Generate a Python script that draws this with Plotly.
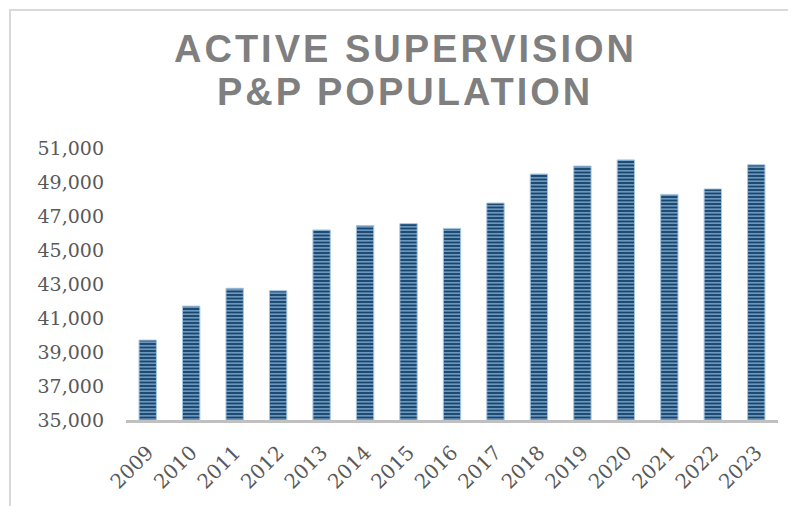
import plotly.graph_objects as go

years = ["2009", "2010", "2011", "2012", "2013", "2014", "2015", "2016",
         "2017", "2018", "2019", "2020", "2021", "2022", "2023"]
population = [39700, 41700, 42750, 42600, 46180, 46440, 46550, 46270,
              47760, 49470, 49940, 50300, 48270, 48590, 50010]
y_ticks = [35000, 37000, 39000, 41000, 43000, 45000, 47000, 49000, 51000]
title_lines = ["ACTIVE SUPERVISION", "P&P POPULATION"]

# page body has an 8px margin, so the figure is laid out 8px smaller
W, H = 788, 498
L, T, R, B = 118, 140, 18, 84
PW, PH = W - L - R, H - T - B

fig = go.Figure(go.Bar(
    x=years, y=population,
    marker=dict(
        color="#1d4b73",
        line=dict(color="#a8c6e0", width=1),
        pattern=dict(shape="-", fgcolor="#7ba8d0", bgcolor="#1a456b",
                     size=3.5, solidity=0.42, fillmode="replace"),
    ),
    hoverinfo="x+y",
))

fig.update_layout(
    width=W, height=H,
    margin=dict(l=L, r=R, t=T, b=B),
    paper_bgcolor="white", plot_bgcolor="white",
    bargap=0.6, showlegend=False,
    font=dict(family="DejaVu Serif", color="#595959"),
)
fig.update_xaxes(
    type="category", tickangle=-45,
    tickfont=dict(family="DejaVu Serif", size=20, color="#595959"),
    showline=True, linecolor="#c0c0c0", linewidth=3,
    showgrid=False, ticks="", ticklabelstandoff=10,
)
fig.update_yaxes(
    range=[35000, 51000], tickvals=y_ticks, tickformat=",",
    tickfont=dict(family="DejaVu Serif", size=19, color="#595959"),
    showgrid=False, zeroline=False, showline=False, ticks="",
    ticklabelstandoff=21,
)

# title lines (page y centres 48 and 92)
for text, py in zip(title_lines, [48, 92]):
    fig.add_annotation(
        text='<span style="letter-spacing:3px">' + text + '</span>',
        xref="paper", yref="paper",
        x=(405 - 8 - L) / PW, y=(H - B - (py - 8)) / PH,
        xanchor="center", yanchor="middle", showarrow=False,
        font=dict(family="Liberation Sans, Arial", size=38,
                  color="#7f7f7f", weight="bold"),
    )

# chart border
fig.add_shape(type="rect", xref="paper", yref="paper",
              x0=(2 - L) / PW, x1=(W + 20 - L) / PW,
              y0=-(B + 20) / PH, y1=1 + (T - 1) / PH,
              line=dict(color="#d9d9d9", width=2), fillcolor="rgba(0,0,0,0)",
              layer="below")

fig.write_html("out.html")
